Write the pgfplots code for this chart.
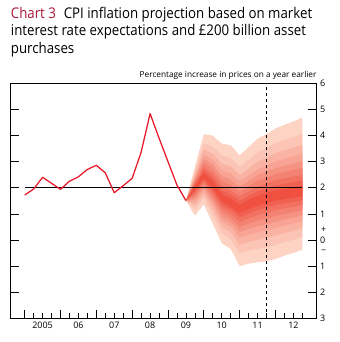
\documentclass[border=0pt]{standalone}
\usepackage{fontspec}
\setmainfont{Open Sans}
\newfontfamily\titlefont[FakeStretch=0.9]{Open Sans}
\usepackage{pgfplots}
\pgfplotsset{compat=1.18}
\usepgfplotslibrary{fillbetween}
\usepackage{pgfplotstable}

\definecolor{charttitle}{RGB}{168,24,56}
\definecolor{cpired}{RGB}{232,24,40}
\definecolor{fanlight}{RGB}{253,212,196}
\definecolor{fandark}{RGB}{239,80,64}
\colorlet{fan1}{fanlight}
\colorlet{fan2}{fandark!12!fanlight}
\colorlet{fan3}{fandark!25!fanlight}
\colorlet{fan4}{fandark!37!fanlight}
\colorlet{fan5}{fandark!50!fanlight}
\colorlet{fan6}{fandark!62!fanlight}
\colorlet{fan7}{fandark!75!fanlight}
\colorlet{fan8}{fandark!87!fanlight}
\colorlet{fan9}{fandark}

% CPI outturns, quarterly (plotted at quarter start)
\pgfplotstableread{
t       cpi
2005.00 1.72
2005.25 1.95
2005.50 2.40
2005.75 2.17
2006.00 1.94
2006.25 2.25
2006.50 2.42
2006.75 2.70
2007.00 2.86
2007.25 2.57
2007.50 1.81
2007.75 2.08
2008.00 2.36
2008.25 3.36
2008.50 4.84
2008.75 3.90
2009.00 3.00
2009.25 2.10
2009.50 1.51
}\cpidata

% fan chart band edges (u1/l1 outermost ... u9/l9 innermost)
\pgfplotstableread{
t       u1   l1    u2   l2    u3   l3    u4   l4    u5   l5    u6   l6    u7   l7    u8   l8    u9   l9
2009.50 1.51 1.51  1.51 1.51  1.51 1.51  1.51 1.51  1.51 1.51  1.51 1.51  1.51 1.51  1.51 1.51  1.51 1.51
2009.75 2.80 0.93  2.62 1.17  2.50 1.33  2.41 1.45  2.33 1.56  2.26 1.66  2.18 1.75  2.12 1.84  2.06 1.91
2010.00 4.05 1.36  3.70 1.60  3.46 1.76  3.27 1.89  3.11 2.00  2.96 2.10  2.82 2.20  2.69 2.29  2.58 2.36
2010.25 4.00 0.62  3.58 0.95  3.30 1.17  3.07 1.35  2.88 1.49  2.71 1.63  2.54 1.76  2.39 1.88  2.25 1.98
2010.50 3.69 -0.12 3.23 0.26  2.92 0.52  2.67 0.72  2.46 0.90  2.27 1.05  2.08 1.20  1.91 1.34  1.77 1.46
2010.75 3.63 -0.35 3.14 0.04  2.81 0.30  2.54 0.51  2.31 0.68  2.11 0.84  1.91 1.00  1.74 1.14  1.58 1.26
2011.00 3.24 -1.00 2.79 -0.52 2.49 -0.19 2.24 0.08  2.04 0.30  1.85 0.50  1.67 0.69  1.51 0.87  1.36 1.02
2011.25 3.56 -0.91 3.07 -0.41 2.74 -0.07 2.48 0.20  2.26 0.42  2.06 0.63  1.86 0.83  1.68 1.01  1.53 1.17
2011.50 3.88 -0.86 3.36 -0.34 3.00 0.01  2.71 0.30  2.48 0.53  2.26 0.75  2.05 0.96  1.86 1.15  1.69 1.31
2011.75 4.05 -0.82 3.51 -0.29 3.14 0.08  2.85 0.37  2.61 0.61  2.38 0.83  2.16 1.04  1.97 1.24  1.80 1.41
2012.00 4.27 -0.73 3.71 -0.20 3.32 0.17  3.01 0.46  2.75 0.70  2.52 0.92  2.29 1.14  2.09 1.34  1.91 1.51
2012.25 4.41 -0.60 3.83 -0.08 3.43 0.27  3.11 0.55  2.84 0.79  2.60 1.00  2.36 1.21  2.15 1.40  1.96 1.56
2012.50 4.54 -0.50 3.94 0.01  3.53 0.35  3.20 0.63  2.92 0.86  2.68 1.06  2.43 1.27  2.21 1.46  2.02 1.62
2012.75 4.69 -0.37 4.07 0.12  3.64 0.45  3.30 0.72  3.01 0.94  2.76 1.14  2.50 1.34  2.28 1.52  2.08 1.67
}\fandata

\begin{document}
\begin{tikzpicture}
% title
\node[anchor=base west, inner sep=0pt, font=\titlefont\fontsize{14.8}{17}\selectfont] at (10.7bp,323.7bp)
  {\textcolor{charttitle}{Chart 3}\hspace{0.3em} CPI inflation projection based on market};
\node[anchor=base west, inner sep=0pt, font=\titlefont\fontsize{14.8}{17}\selectfont] at (10.7bp,306bp)
  {interest rate expectations and £200 billion asset};
\node[anchor=base west, inner sep=0pt, font=\titlefont\fontsize{14.8}{17}\selectfont] at (10.7bp,288.7bp)
  {purchases};

\begin{axis}[
  at={(10.7bp,23.7bp)}, anchor=south west,
  scale only axis, width=306bp, height=235bp,
  xmin=2004.61, xmax=2013.15, ymin=-3, ymax=6,
  clip=false,
  axis line style={line width=0.7pt, black},
  every tick/.style={line width=0.7pt, black},
  tick align=inside,
  major tick length=8.5bp, minor tick length=5bp,
  xtick={2005,2006,2007,2008,2009,2010,2011,2012},
  xticklabels={},
  minor xtick={2005.25,2005.5,2005.75,2006.25,2006.5,2006.75,2007.25,2007.5,2007.75,
               2008.25,2008.5,2008.75,2009.25,2009.5,2009.75,2010.25,2010.5,2010.75,
               2011.25,2011.5,2011.75,2012.25,2012.5,2012.75},
  xtick pos=bottom,
  extra x ticks={2005.5,2006.5,2007.5,2008.5,2009.5,2010.5,2011.5,2012.5},
  extra x tick labels={2005,06,07,08,09,10,11,12},
  extra x tick style={major tick length=0pt},
  ytick={-3,-2,-1,0,1,2,3,4,5,6},
  yticklabels={3,2,1,0,1,2,3,4,5,6},
  ytick pos=both, yticklabel pos=right,
  tick label style={font=\fontsize{9}{10}\selectfont},
  /pgf/number format/assume math mode=true,
]
% fan chart
\addplot[name path=u1, draw=none, forget plot] table[x=t,y=u1] {\fandata};
\addplot[name path=l1, draw=none, forget plot] table[x=t,y=l1] {\fandata};
\addplot[fill=fan1, draw=none] fill between[of=u1 and l1];
\addplot[name path=u2, draw=none, forget plot] table[x=t,y=u2] {\fandata};
\addplot[name path=l2, draw=none, forget plot] table[x=t,y=l2] {\fandata};
\addplot[fill=fan2, draw=none] fill between[of=u2 and l2];
\addplot[name path=u3, draw=none, forget plot] table[x=t,y=u3] {\fandata};
\addplot[name path=l3, draw=none, forget plot] table[x=t,y=l3] {\fandata};
\addplot[fill=fan3, draw=none] fill between[of=u3 and l3];
\addplot[name path=u4, draw=none, forget plot] table[x=t,y=u4] {\fandata};
\addplot[name path=l4, draw=none, forget plot] table[x=t,y=l4] {\fandata};
\addplot[fill=fan4, draw=none] fill between[of=u4 and l4];
\addplot[name path=u5, draw=none, forget plot] table[x=t,y=u5] {\fandata};
\addplot[name path=l5, draw=none, forget plot] table[x=t,y=l5] {\fandata};
\addplot[fill=fan5, draw=none] fill between[of=u5 and l5];
\addplot[name path=u6, draw=none, forget plot] table[x=t,y=u6] {\fandata};
\addplot[name path=l6, draw=none, forget plot] table[x=t,y=l6] {\fandata};
\addplot[fill=fan6, draw=none] fill between[of=u6 and l6];
\addplot[name path=u7, draw=none, forget plot] table[x=t,y=u7] {\fandata};
\addplot[name path=l7, draw=none, forget plot] table[x=t,y=l7] {\fandata};
\addplot[fill=fan7, draw=none] fill between[of=u7 and l7];
\addplot[name path=u8, draw=none, forget plot] table[x=t,y=u8] {\fandata};
\addplot[name path=l8, draw=none, forget plot] table[x=t,y=l8] {\fandata};
\addplot[fill=fan8, draw=none] fill between[of=u8 and l8];
\addplot[name path=u9, draw=none, forget plot] table[x=t,y=u9] {\fandata};
\addplot[name path=l9, draw=none, forget plot] table[x=t,y=l9] {\fandata};
\addplot[fill=fan9, draw=none] fill between[of=u9 and l9];

% 2 per cent line and two-year-ahead marker
\addplot[black, line width=0.8pt] coordinates {(2005,2) (2012.75,2)};
\addplot[black, line width=0.8pt, dash pattern=on 3.5bp off 2.5bp] coordinates {(2011.75,-3) (2011.75,6)};

% CPI outturns
\addplot[cpired, line width=1.25pt, line join=round] table[x=t,y=cpi] {\cpidata};

% sign markers on right scale
\node[font=\fontsize{9}{10}\selectfont] at ([xshift=6.9bp]axis cs:2013.15,0.4) {+};
\node[font=\fontsize{9}{10}\selectfont] at ([xshift=6.9bp]axis cs:2013.15,-0.44) {−};

% units label
\node[anchor=base east, inner sep=0pt, font=\fontsize{8.3}{9}\selectfont] at ([yshift=5.8bp]rel axis cs:1,1)
  {Percentage increase in prices on a year earlier};
\end{axis}
\pgfresetboundingbox
\path[use as bounding box] (0,0) rectangle (340bp,342bp);
\end{tikzpicture}
\end{document}
